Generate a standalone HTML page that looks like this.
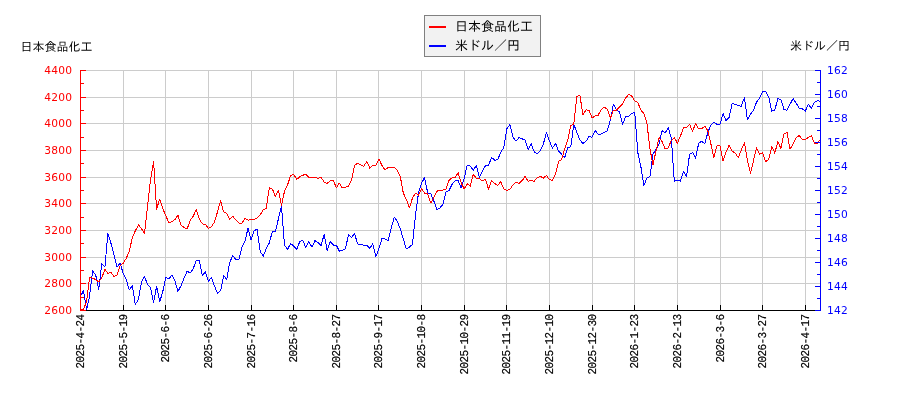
<!DOCTYPE html>
<html lang="ja"><head><meta charset="utf-8"><title>日本食品化工 米ドル／円</title>
<style>html,body{margin:0;padding:0;background:#fff}svg{display:block}.num{font-family:"DejaVu Sans","Liberation Sans",sans-serif;font-size:10.67px;letter-spacing:0.25px}.lg{font-family:"Liberation Sans","IPAGothic","Noto Sans CJK JP",sans-serif;font-size:13px;fill:#000}.jp{font-family:"Liberation Sans","IPAGothic","Noto Sans CJK JP",sans-serif;font-size:12px;fill:#000}.dt{font-family:"Liberation Mono","IPAGothic",monospace;font-size:11px;letter-spacing:-0.6px;fill:#000;stroke:#000;stroke-width:0.15px;text-rendering:geometricPrecision}</style></head><body>
<svg width="900" height="400" viewBox="0 0 900 400">
<rect width="900" height="400" fill="#fff"/>
<path d="M123.5 70V310M165.5 70V310M208.5 70V310M251.5 70V310M293.5 70V310M336.5 70V310M378.5 70V310M421.5 70V310M464.5 70V310M506.5 70V310M549.5 70V310M592.5 70V310M634.5 70V310M677.5 70V310M720.5 70V310M762.5 70V310M805.5 70V310M80 70.5H820M80 97.5H820M80 123.5H820M80 150.5H820M80 177.5H820M80 203.5H820M80 230.5H820M80 257.5H820M80 283.5H820" stroke="#cccccc" stroke-width="1" fill="none" shape-rendering="crispEdges"/>
<path d="M80.5 296.4 L83.5 290.5 L86.6 310.0 L89.6 295.8 L92.7 270.8 L95.7 275.1 L98.8 289.3 L101.8 263.9 L104.9 267.0 L107.9 233.4 L111.0 243.4 L114.0 255.2 L117.0 267.0 L120.1 263.3 L123.1 273.0 L126.2 279.0 L129.2 290.1 L132.3 285.5 L135.3 304.5 L138.4 299.5 L141.4 282.6 L144.5 276.4 L147.5 284.5 L150.5 287.6 L153.6 302.6 L156.6 286.4 L159.7 301.8 L162.7 292.0 L165.8 277.6 L168.8 278.9 L171.9 275.1 L174.9 280.8 L177.9 291.4 L181.0 285.8 L184.0 278.1 L187.1 271.2 L190.1 273.1 L193.2 268.8 L196.2 260.5 L199.3 260.4 L202.3 275.6 L205.4 271.9 L208.4 281.2 L211.4 277.5 L214.5 286.2 L217.5 293.1 L220.6 290.6 L223.6 275.6 L226.7 279.4 L229.7 262.5 L232.8 255.6 L235.8 259.4 L238.9 259.4 L241.9 247.5 L244.9 241.2 L248.0 228.5 L251.0 240.0 L254.1 230.5 L257.1 229.4 L260.2 251.5 L263.2 256.2 L266.3 248.5 L269.3 243.0 L272.4 231.2 L275.4 231.9 L278.4 218.8 L281.5 206.2 L284.5 245.0 L287.6 249.4 L290.6 243.5 L293.7 246.2 L296.7 249.4 L299.8 241.5 L302.8 240.4 L305.8 247.5 L308.9 241.5 L311.9 247.2 L315.0 240.6 L318.0 242.5 L321.1 245.6 L324.1 234.4 L327.2 250.6 L330.2 241.5 L333.3 245.0 L336.3 245.2 L339.3 251.2 L342.4 250.2 L345.4 248.8 L348.5 234.8 L351.5 237.5 L354.6 233.5 L357.6 244.0 L360.7 244.4 L363.7 245.2 L366.8 245.2 L369.8 248.5 L372.8 243.8 L375.9 256.5 L378.9 248.8 L382.0 238.5 L385.0 239.0 L388.1 240.6 L391.1 228.8 L394.2 217.2 L397.2 221.2 L400.3 229.0 L403.3 238.8 L406.3 249.0 L409.4 247.2 L412.4 244.4 L415.5 215.0 L418.5 193.0 L421.6 183.1 L424.6 177.5 L427.7 193.0 L430.7 193.5 L433.8 201.0 L436.8 209.4 L439.8 208.1 L442.9 204.5 L445.9 191.9 L449.0 190.6 L452.0 184.4 L455.1 181.0 L458.1 180.4 L461.2 188.1 L464.2 178.1 L467.2 165.2 L470.3 166.0 L473.3 170.4 L476.4 165.2 L479.4 177.4 L482.5 171.2 L485.5 165.6 L488.6 165.0 L491.6 157.4 L494.7 160.3 L497.7 159.8 L500.7 152.2 L503.8 147.5 L506.8 128.8 L509.9 124.6 L512.9 136.9 L516.0 141.2 L519.0 137.5 L522.1 138.8 L525.1 140.2 L528.2 149.4 L531.2 143.5 L534.2 151.9 L537.3 153.8 L540.3 150.6 L543.4 143.8 L546.4 132.5 L549.5 141.2 L552.5 148.1 L555.6 143.5 L558.6 151.2 L561.7 154.4 L564.7 157.5 L567.7 147.5 L570.8 146.9 L573.8 124.2 L576.9 132.5 L579.9 140.0 L583.0 143.5 L586.0 141.2 L589.1 136.5 L592.1 137.2 L595.2 130.4 L598.2 134.4 L601.2 134.0 L604.3 132.5 L607.3 130.6 L610.4 120.0 L613.4 104.4 L616.5 110.0 L619.5 111.9 L622.6 124.4 L625.6 116.9 L628.6 116.2 L631.7 113.5 L634.7 112.2 L637.8 152.5 L640.8 166.2 L643.9 185.6 L646.9 178.1 L650.0 176.2 L653.0 154.0 L656.1 149.4 L659.1 144.0 L662.1 130.6 L665.2 133.1 L668.2 127.5 L671.3 138.1 L674.3 181.2 L677.4 180.2 L680.4 181.2 L683.5 171.2 L686.5 176.2 L689.6 154.4 L692.6 152.5 L695.6 158.5 L698.7 143.1 L701.7 141.2 L704.8 143.8 L707.8 132.5 L710.9 125.0 L713.9 121.9 L717.0 124.4 L720.0 124.4 L723.1 113.5 L726.1 120.6 L729.1 117.5 L732.2 103.5 L735.2 104.4 L738.3 105.6 L741.3 106.2 L744.4 97.5 L747.4 119.4 L750.5 114.4 L753.5 110.0 L756.5 102.2 L759.6 98.1 L762.6 91.5 L765.7 91.5 L768.7 96.9 L771.8 111.2 L774.8 110.0 L777.9 98.5 L780.9 100.0 L784.0 109.4 L787.0 110.2 L790.0 104.4 L793.1 98.5 L796.1 103.1 L799.2 108.1 L802.2 108.8 L805.3 111.2 L808.3 104.4 L811.4 108.1 L814.4 102.5 L817.5 100.6 L820.5 101.5" stroke="#0000ff" stroke-width="1" fill="none" stroke-linejoin="round" shape-rendering="crispEdges"/>
<path d="M80.5 310.0 L83.5 309.8 L86.6 301.0 L89.6 277.6 L92.7 278.2 L95.7 279.5 L98.8 282.0 L101.8 277.6 L104.9 269.5 L107.9 273.2 L111.0 272.6 L114.0 276.4 L117.0 275.0 L120.1 265.8 L123.1 263.3 L126.2 258.4 L129.2 251.5 L132.3 237.8 L135.3 230.9 L138.4 225.0 L141.4 228.4 L144.5 233.4 L147.5 207.2 L150.5 179.8 L153.6 161.2 L156.6 209.1 L159.7 199.1 L162.7 208.5 L165.8 215.5 L168.8 222.8 L171.9 221.5 L174.9 219.6 L177.9 215.2 L181.0 225.0 L184.0 227.5 L187.1 229.0 L190.1 220.6 L193.2 216.2 L196.2 209.5 L199.3 218.8 L202.3 223.8 L205.4 224.4 L208.4 228.5 L211.4 226.9 L214.5 221.9 L217.5 211.9 L220.6 200.6 L223.6 211.9 L226.7 213.5 L229.7 219.4 L232.8 216.2 L235.8 220.0 L238.9 223.1 L241.9 223.1 L244.9 218.5 L248.0 220.2 L251.0 219.4 L254.1 219.4 L257.1 218.1 L260.2 215.0 L263.2 210.0 L266.3 208.1 L269.3 187.8 L272.4 189.0 L275.4 196.4 L278.4 190.0 L281.5 205.6 L284.5 191.2 L287.6 184.8 L290.6 175.6 L293.7 174.4 L296.7 179.4 L299.8 176.9 L302.8 175.2 L305.8 174.4 L308.9 177.2 L311.9 177.2 L315.0 177.2 L318.0 178.4 L321.1 177.5 L324.1 181.9 L327.2 183.5 L330.2 180.6 L333.3 180.2 L336.3 187.9 L339.3 183.1 L342.4 188.0 L345.4 187.2 L348.5 186.1 L351.5 180.0 L354.6 165.6 L357.6 163.1 L360.7 164.8 L363.7 166.2 L366.8 161.5 L369.8 168.1 L372.8 165.6 L375.9 165.0 L378.9 159.0 L382.0 165.6 L385.0 170.0 L388.1 167.5 L391.1 167.2 L394.2 167.2 L397.2 170.0 L400.3 176.5 L403.3 193.1 L406.3 199.4 L409.4 207.5 L412.4 198.4 L415.5 193.1 L418.5 195.0 L421.6 188.8 L424.6 193.1 L427.7 193.8 L430.7 203.0 L433.8 197.5 L436.8 191.2 L439.8 190.4 L442.9 190.0 L445.9 189.0 L449.0 180.6 L452.0 177.8 L455.1 177.8 L458.1 172.5 L461.2 183.0 L464.2 188.8 L467.2 183.8 L470.3 186.2 L473.3 174.4 L476.4 178.5 L479.4 178.5 L482.5 181.0 L485.5 179.4 L488.6 189.4 L491.6 180.4 L494.7 183.5 L497.7 185.6 L500.7 181.8 L503.8 189.0 L506.8 190.6 L509.9 189.4 L512.9 185.0 L516.0 181.9 L519.0 183.5 L522.1 180.6 L525.1 176.5 L528.2 181.2 L531.2 180.6 L534.2 181.2 L537.3 177.8 L540.3 176.2 L543.4 178.1 L546.4 175.5 L549.5 179.8 L552.5 180.2 L555.6 173.8 L558.6 161.2 L561.7 159.4 L564.7 148.8 L567.7 140.5 L570.8 125.6 L573.8 123.8 L576.9 96.2 L579.9 95.6 L583.0 115.0 L586.0 109.8 L589.1 110.6 L592.1 118.1 L595.2 115.6 L598.2 115.2 L601.2 109.4 L604.3 107.2 L607.3 109.4 L610.4 118.1 L613.4 110.0 L616.5 110.0 L619.5 106.9 L622.6 103.8 L625.6 98.1 L628.6 94.4 L631.7 96.0 L634.7 101.0 L637.8 102.5 L640.8 109.8 L643.9 113.8 L646.9 123.1 L650.0 149.3 L653.0 164.6 L656.1 150.6 L659.1 137.5 L662.1 141.5 L665.2 149.0 L668.2 147.8 L671.3 140.5 L674.3 137.5 L677.4 143.1 L680.4 136.2 L683.5 127.8 L686.5 127.2 L689.6 124.4 L692.6 131.2 L695.6 123.5 L698.7 129.0 L701.7 128.8 L704.8 126.2 L707.8 130.6 L710.9 144.0 L713.9 157.5 L717.0 145.6 L720.0 145.6 L723.1 161.2 L726.1 151.9 L729.1 145.2 L732.2 151.2 L735.2 153.1 L738.3 157.5 L741.3 150.0 L744.4 142.8 L747.4 160.6 L750.5 173.1 L753.5 160.6 L756.5 147.8 L759.6 154.4 L762.6 152.8 L765.7 161.5 L768.7 159.8 L771.8 146.5 L774.8 153.1 L777.9 141.5 L780.9 148.5 L784.0 133.8 L787.0 132.5 L790.0 149.4 L793.1 143.8 L796.1 137.5 L799.2 135.6 L802.2 139.4 L805.3 139.4 L808.3 137.5 L811.4 135.6 L814.4 143.1 L817.5 143.1 L820.5 139.4" stroke="#ff0000" stroke-width="1" fill="none" stroke-linejoin="round" shape-rendering="crispEdges"/>
<path d="M80 310.5H821M80.5 305V311M123.5 305V311M165.5 305V311M208.5 305V311M251.5 305V311M293.5 305V311M336.5 305V311M378.5 305V311M421.5 305V311M464.5 305V311M506.5 305V311M549.5 305V311M592.5 305V311M634.5 305V311M677.5 305V311M720.5 305V311M762.5 305V311M805.5 305V311" stroke="#000" stroke-width="1" fill="none" shape-rendering="crispEdges"/>
<path d="M80.5 70V311M80 70.5h6M80 83.5h4M80 97.5h6M80 110.5h4M80 123.5h6M80 137.5h4M80 150.5h6M80 163.5h4M80 177.5h6M80 190.5h4M80 203.5h6M80 217.5h4M80 230.5h6M80 243.5h4M80 257.5h6M80 270.5h4M80 283.5h6M80 297.5h4M80 310.5h6" stroke="#ff0000" stroke-width="1" fill="none" shape-rendering="crispEdges"/>
<path d="M820.5 70V311M821 70.5h-6M821 82.5h-4M821 94.5h-6M821 106.5h-4M821 118.5h-6M821 130.5h-4M821 142.5h-6M821 154.5h-4M821 166.5h-6M821 178.5h-4M821 190.5h-6M821 202.5h-4M821 214.5h-6M821 226.5h-4M821 238.5h-6M821 250.5h-4M821 262.5h-6M821 274.5h-4M821 286.5h-6M821 298.5h-4M821 310.5h-6" stroke="#0000ff" stroke-width="1" fill="none" shape-rendering="crispEdges"/>
<text class="num" x="72.3" y="74.0" text-anchor="end" fill="#ff0000">4400</text>
<text class="num" x="72.3" y="100.7" text-anchor="end" fill="#ff0000">4200</text>
<text class="num" x="72.3" y="127.3" text-anchor="end" fill="#ff0000">4000</text>
<text class="num" x="72.3" y="154.0" text-anchor="end" fill="#ff0000">3800</text>
<text class="num" x="72.3" y="180.7" text-anchor="end" fill="#ff0000">3600</text>
<text class="num" x="72.3" y="207.3" text-anchor="end" fill="#ff0000">3400</text>
<text class="num" x="72.3" y="234.0" text-anchor="end" fill="#ff0000">3200</text>
<text class="num" x="72.3" y="260.7" text-anchor="end" fill="#ff0000">3000</text>
<text class="num" x="72.3" y="287.3" text-anchor="end" fill="#ff0000">2800</text>
<text class="num" x="72.3" y="314.0" text-anchor="end" fill="#ff0000">2600</text>
<text class="num" x="827" y="74.0" fill="#0000ff">162</text>
<text class="num" x="827" y="98.0" fill="#0000ff">160</text>
<text class="num" x="827" y="122.0" fill="#0000ff">158</text>
<text class="num" x="827" y="146.0" fill="#0000ff">156</text>
<text class="num" x="827" y="170.0" fill="#0000ff">154</text>
<text class="num" x="827" y="194.0" fill="#0000ff">152</text>
<text class="num" x="827" y="218.0" fill="#0000ff">150</text>
<text class="num" x="827" y="242.0" fill="#0000ff">148</text>
<text class="num" x="827" y="266.0" fill="#0000ff">146</text>
<text class="num" x="827" y="290.0" fill="#0000ff">144</text>
<text class="num" x="827" y="314.0" fill="#0000ff">142</text>
<text class="dt" transform="translate(84.0,314.6) rotate(-90) scale(1,1.09)" text-anchor="end">2025-4-24</text>
<text class="dt" transform="translate(127.0,314.6) rotate(-90) scale(1,1.09)" text-anchor="end">2025-5-19</text>
<text class="dt" transform="translate(169.0,314.6) rotate(-90) scale(1,1.09)" text-anchor="end">2025-6-6</text>
<text class="dt" transform="translate(212.0,314.6) rotate(-90) scale(1,1.09)" text-anchor="end">2025-6-26</text>
<text class="dt" transform="translate(255.0,314.6) rotate(-90) scale(1,1.09)" text-anchor="end">2025-7-16</text>
<text class="dt" transform="translate(297.0,314.6) rotate(-90) scale(1,1.09)" text-anchor="end">2025-8-6</text>
<text class="dt" transform="translate(340.0,314.6) rotate(-90) scale(1,1.09)" text-anchor="end">2025-8-27</text>
<text class="dt" transform="translate(382.0,314.6) rotate(-90) scale(1,1.09)" text-anchor="end">2025-9-17</text>
<text class="dt" transform="translate(425.0,314.6) rotate(-90) scale(1,1.09)" text-anchor="end">2025-10-8</text>
<text class="dt" transform="translate(468.0,314.6) rotate(-90) scale(1,1.09)" text-anchor="end">2025-10-29</text>
<text class="dt" transform="translate(510.0,314.6) rotate(-90) scale(1,1.09)" text-anchor="end">2025-11-19</text>
<text class="dt" transform="translate(553.0,314.6) rotate(-90) scale(1,1.09)" text-anchor="end">2025-12-10</text>
<text class="dt" transform="translate(596.0,314.6) rotate(-90) scale(1,1.09)" text-anchor="end">2025-12-30</text>
<text class="dt" transform="translate(638.0,314.6) rotate(-90) scale(1,1.09)" text-anchor="end">2026-1-23</text>
<text class="dt" transform="translate(681.0,314.6) rotate(-90) scale(1,1.09)" text-anchor="end">2026-2-13</text>
<text class="dt" transform="translate(724.0,314.6) rotate(-90) scale(1,1.09)" text-anchor="end">2026-3-6</text>
<text class="dt" transform="translate(766.0,314.6) rotate(-90) scale(1,1.09)" text-anchor="end">2026-3-27</text>
<text class="dt" transform="translate(809.0,314.6) rotate(-90) scale(1,1.09)" text-anchor="end">2026-4-17</text>
<text class="jp" x="20.4" y="51.2">日本食品化工</text>
<text class="jp" x="790" y="50">米ドル／円</text>
<rect x="424.5" y="15.5" width="116" height="41" fill="#f2f2f2" stroke="#808080" stroke-width="1" shape-rendering="crispEdges"/>
<path d="M429 27h17" stroke="#ff0000" stroke-width="2" shape-rendering="crispEdges"/>
<path d="M429 46h17" stroke="#0000ff" stroke-width="2" shape-rendering="crispEdges"/>
<text class="lg" x="455" y="30.9">日本食品化工</text>
<text class="lg" x="455" y="49.9">米ドル／円</text>
</svg></body></html>
